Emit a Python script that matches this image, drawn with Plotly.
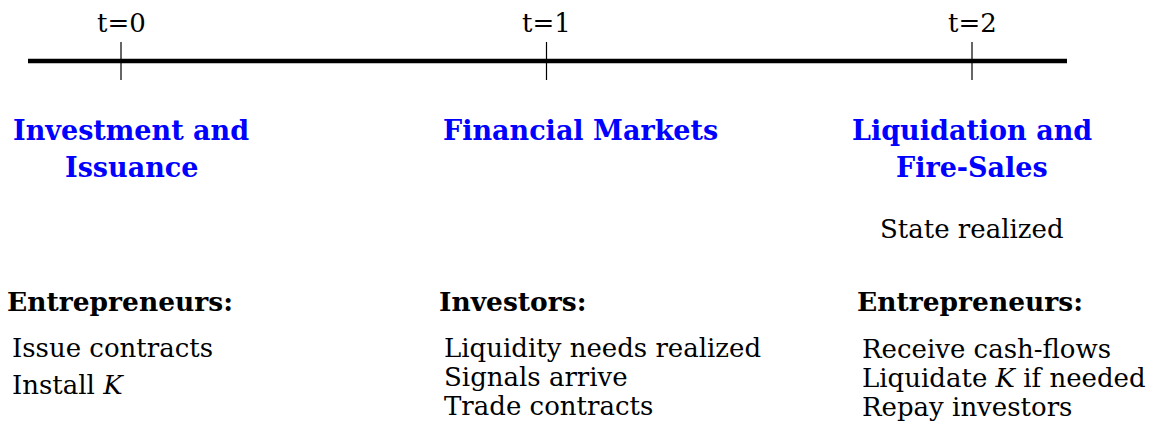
import plotly.graph_objects as go

# ---- data ----
times = [0, 1, 2]
time_labels = ["t=0", "t=1", "t=2"]
phase_titles = [["Investment and", "Issuance"], ["Financial Markets"], ["Liquidation and", "Fire-Sales"]]
phase_notes = ["", "", "State realized"]
actors = ["Entrepreneurs:", "Investors:", "Entrepreneurs:"]
actions = [
    ["Issue contracts", "Install <i>K</i>"],
    ["Liquidity needs realized", "Signals arrive", "Trade contracts"],
    ["Receive cash-flows", "Liquidate <i>K</i> if needed", "Repay investors"],
]

# ---- layout constants (pixels) ----
W, H = 1159, 434
T0_PX, T2_PX = 121, 972
scale = (T2_PX - T0_PX) / 2.0
def px_to_t(px):
    return (px - T0_PX) / scale

LINE_Y = 61
LINE_START_PX, LINE_END_PX = 28, 1067
TICK_TOP, TICK_BOT = 42, 80
FONT = "DejaVu Serif"
BLUE = "#0000ff"

fig = go.Figure()

# main timeline
fig.add_trace(go.Scatter(
    x=[px_to_t(LINE_START_PX), px_to_t(LINE_END_PX)], y=[LINE_Y, LINE_Y],
    mode="lines", line=dict(color="black", width=4.6), hoverinfo="skip", showlegend=False))

# ticks
tx, ty = [], []
for t in times:
    tx += [t, t, None]
    ty += [TICK_TOP, TICK_BOT, None]
fig.add_trace(go.Scatter(x=tx, y=ty, mode="lines", line=dict(color="black", width=1.2),
                         hoverinfo="skip", showlegend=False))

ann = []
# time labels
for t, lab in zip(times, time_labels):
    ann.append(dict(x=t, y=23, xref="x", yref="y", text=lab, showarrow=False,
                    xanchor="center", yanchor="middle",
                    font=dict(family=FONT, size=26, color="black")))

# phase titles
title_cx = [131, 580, 972]
title_y = [130, 167]
for cx, lines in zip(title_cx, phase_titles):
    for i, line in enumerate(lines):
        ann.append(dict(x=px_to_t(cx), y=title_y[i], xref="x", yref="y", text="<b>%s</b>" % line,
                        showarrow=False, xanchor="center", yanchor="middle",
                        font=dict(family=FONT, size=27, color=BLUE)))

# notes
for cx, note in zip([121, 547, 972], phase_notes):
    if note:
        ann.append(dict(x=px_to_t(cx), y=229, xref="x", yref="y", text=note, showarrow=False,
                        xanchor="center", yanchor="middle",
                        font=dict(family=FONT, size=26, color="black")))

# actors
actor_x = [5, 437, 855]
for ax, a in zip(actor_x, actors):
    ann.append(dict(x=px_to_t(ax), y=301, xref="x", yref="y", text="<b>%s</b>" % a, showarrow=False,
                    xanchor="left", yanchor="middle",
                    font=dict(family=FONT, size=26.5, color="black")))

# actions
action_x = [10, 442, 860]
action_y = [[348, 385], [348, 377, 406], [349, 378, 407]]
for ax, ys, lines in zip(action_x, action_y, actions):
    for y, line in zip(ys, lines):
        ann.append(dict(x=px_to_t(ax), y=y, xref="x", yref="y", text=line, showarrow=False,
                        xanchor="left", yanchor="middle",
                        font=dict(family=FONT, size=26, color="black")))

fig.update_layout(
    width=W, height=H, margin=dict(l=0, r=0, t=0, b=0),
    paper_bgcolor="white", plot_bgcolor="white",
    xaxis=dict(range=[px_to_t(0), px_to_t(W)], visible=False, fixedrange=True),
    yaxis=dict(range=[H, 0], visible=False, fixedrange=True),
    annotations=ann, showlegend=False,
)

fig.write_html("out.html", config={"displayModeBar": False},
               post_script="document.body.style.margin='0';")
